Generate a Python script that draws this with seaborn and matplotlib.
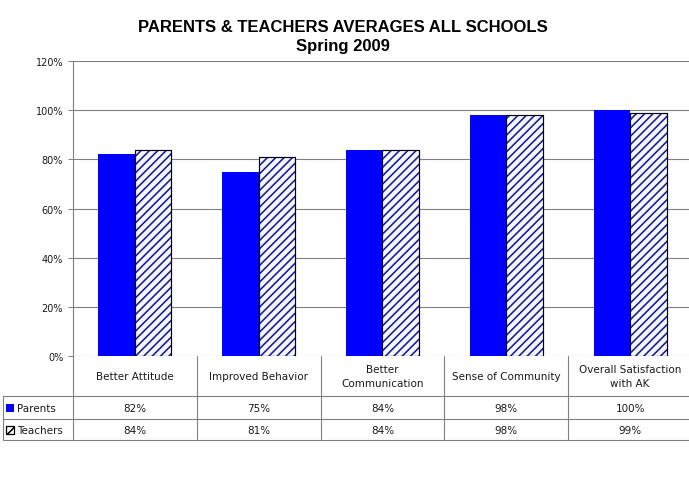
import matplotlib
matplotlib.use("Agg")
import matplotlib.pyplot as plt
import matplotlib.transforms as mtrans
from matplotlib.lines import Line2D
from matplotlib.patches import Rectangle
import seaborn as sns
import pandas as pd

categories = ["Better Attitude", "Improved Behavior", "Better\nCommunication",
              "Sense of Community", "Overall Satisfaction\nwith AK"]
parents = [82, 75, 84, 98, 100]
teachers = [84, 81, 84, 98, 99]
series_names = ["Parents", "Teachers"]
yticks = [0, 20, 40, 60, 80, 100, 120]
title_line1 = "PARENTS & TEACHERS AVERAGES ALL SCHOOLS"
title_line2 = "Spring 2009"

df = pd.DataFrame({
    "Category": categories * 2,
    "Value": [v / 100 for v in parents] + [v / 100 for v in teachers],
    "Group": [series_names[0]] * len(categories) + [series_names[1]] * len(categories),
})

sns.set_style("white")
plt.rcParams["font.family"] = ["DejaVu Sans"]
plt.rcParams["hatch.linewidth"] = 1.15
plt.rcParams["hatch.color"] = "#1a1a8c"

W, H = 689, 485
fig = plt.figure(figsize=(W / 100, H / 100), dpi=100)
fig.patch.set_facecolor("white")

def fx(px):
    return px / W

def fy(py):
    return 1 - py / H

left, right, top, bottom = 73, 692, 62, 357
ax = fig.add_axes([fx(left), fy(bottom), (right - left) / W, (bottom - top) / H])

PARENT_COLOR = "#0000FF"
sns.barplot(data=df, x="Category", y="Value", hue="Group",
            palette={series_names[0]: PARENT_COLOR, series_names[1]: "#f4f6ff"},
            width=0.59, gap=0, saturation=1, legend=False, ax=ax, zorder=3)

for p in ax.containers[0]:
    p.set_edgecolor("none")
for p in ax.containers[1]:
    p.set_hatch("////")
    p.set_edgecolor("#1a1a8c")
    p.set_linewidth(0.8)
    # black outline on top of the hatched bar
    outline = Rectangle(p.get_xy(), p.get_width(), p.get_height(), facecolor="none",
                        edgecolor="black", lw=0.8, zorder=4)
    ax.add_patch(outline)

GRAY = "#808080"
TXT = "#1a1a1a"
ax.set_ylim(0, 1.2)
ax.set_xlim(-0.5, len(categories) - 0.5)
ax.set_yticks([t / 100 for t in yticks])
ax.set_yticklabels([f"{t}%" for t in yticks], fontsize=7, color=TXT)
ax.tick_params(axis="y", length=3.6, width=0.75, color=GRAY, pad=3.5, left=True)
ax.tick_params(axis="x", bottom=False, labelbottom=False)
ax.set_xlabel("")
ax.set_ylabel("")
ax.yaxis.grid(True, color=GRAY, linewidth=0.8, zorder=0)
ax.set_axisbelow(True)
for s in ["top", "right", "bottom"]:
    ax.spines[s].set_visible(False)
ax.spines["left"].set_color(GRAY)
ax.spines["left"].set_linewidth(0.8)

# Title
fig.text(fx(343), fy(27), title_line1, ha="center", va="center", color="black",
         fontsize=12, fontweight="bold", family="Liberation Sans")
fig.text(fx(343), fy(47), title_line2, ha="center", va="center", color="black",
         fontsize=12, fontweight="bold", family="Liberation Sans")

# Data table below the chart
trans = mtrans.blended_transform_factory(ax.transData, fig.transFigure)
row_header_bot, row1_bot, row2_bot = 397, 420, 441
tab_left = 3

def hline(y, x0, x1):
    fig.add_artist(Line2D([fx(x0), fx(x1)], [fy(y), fy(y)], color=GRAY, lw=0.8,
                          transform=fig.transFigure))

def vline_fig(x, y0, y1):
    fig.add_artist(Line2D([fx(x), fx(x)], [fy(y0), fy(y1)], color=GRAY, lw=0.8,
                          transform=fig.transFigure))

for y in [row_header_bot, row1_bot, row2_bot]:
    hline(y, tab_left, W)
vline_fig(tab_left, row_header_bot, row2_bot)
for i in range(len(categories) + 1):
    xb = i - 0.5
    fig.add_artist(Line2D([xb, xb], [fy(bottom), fy(row2_bot)], color=GRAY, lw=0.8,
                          transform=trans))

for i, cat in enumerate(categories):
    fig.text(i, fy((bottom + row_header_bot) / 2), cat, transform=trans,
             ha="center", va="center", fontsize=7.5, color=TXT, linespacing=1.5)
    fig.text(i, fy((row_header_bot + row1_bot) / 2 + 1), f"{parents[i]}%", transform=trans,
             ha="center", va="center", fontsize=7.5, color=TXT)
    fig.text(i, fy((row1_bot + row2_bot) / 2 + 1), f"{teachers[i]}%", transform=trans,
             ha="center", va="center", fontsize=7.5, color=TXT)

# Legend keys in the table
ky1 = (row_header_bot + row1_bot) / 2
ky2 = (row1_bot + row2_bot) / 2
fig.add_artist(Rectangle((fx(6), fy(ky1 + 4)), 8 / W, 8 / H, facecolor=PARENT_COLOR,
                         edgecolor="none", transform=fig.transFigure))
fig.add_artist(Rectangle((fx(6), fy(ky2 + 4)), 8 / W, 8 / H, facecolor="white",
                         edgecolor="black", hatch="////", lw=0.9, transform=fig.transFigure))
fig.text(fx(17), fy(ky1 + 1), series_names[0], ha="left", va="center", fontsize=7.5, color=TXT)
fig.text(fx(17), fy(ky2 + 1), series_names[1], ha="left", va="center", fontsize=7.5, color=TXT)

fig.savefig("out.png", dpi=100, facecolor="white")
